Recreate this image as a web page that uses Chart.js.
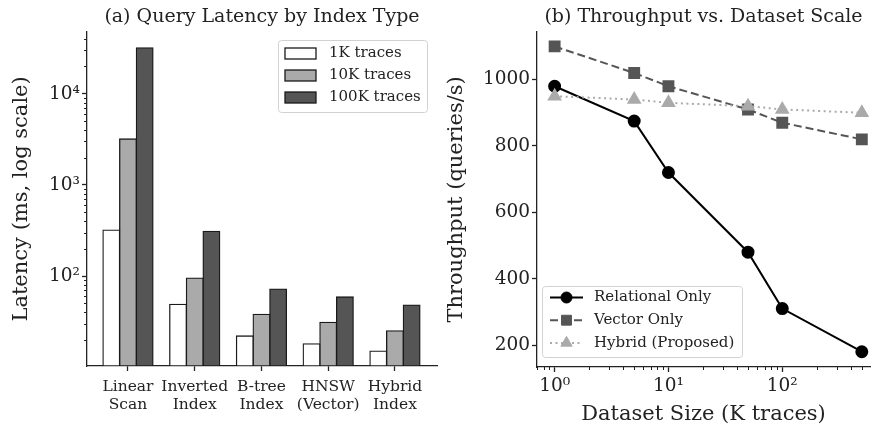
<!DOCTYPE html>
<html>
<head>
<meta charset="utf-8">
<script src="https://cdn.jsdelivr.net/npm/chart.js@4/dist/chart.umd.min.js"></script>
<style>
  html, body { margin: 0; padding: 0; background: #fff; }
  #wrap { position: relative; width: 879px; height: 430px; }
  canvas { position: absolute; top: 0; }
  #latencyChart { left: 0; }
  #throughputChart { left: 440px; }
</style>
</head>
<body>
<div id="wrap">
  <canvas id="latencyChart" width="440" height="430"></canvas>
  <canvas id="throughputChart" width="439" height="430"></canvas>
</div>
<script>
// (a) latency per index type, ms
const indexTypes = [['Linear', 'Scan'], ['Inverted', 'Index'], ['B-tree', 'Index'], ['HNSW', '(Vector)'], ['Hybrid', 'Index']];
const latency1K = [320, 49, 22, 18, 15];
const latency10K = [3200, 95, 38, 31, 25];
const latency100K = [32000, 310, 72, 59, 48];
const latencyTicks = [100, 1000, 10000];
const latencyTickLabels = ['10²', '10³', '10⁴'];

// (b) throughput vs dataset size (K traces)
const datasetSizes = [1, 5, 10, 50, 100, 500];
const relationalOnly = [980, 875, 720, 480, 310, 180];
const vectorOnly = [1100, 1020, 980, 910, 870, 820];
const hybridProposed = [950, 940, 930, 920, 910, 900];
const sizeTicks = [1, 10, 100];
const sizeTickLabels = ['10⁰', '10¹', '10²'];
const throughputTicks = [200, 400, 600, 800, 1000];

const INK = '#222';
Chart.defaults.font.family = '"DejaVu Serif", serif';
Chart.defaults.color = INK;

const minorsFor = (decades) => decades.flatMap(d => [2, 3, 4, 5, 6, 7, 8, 9].map(k => d * k));

// short minor tick marks for the log axes
const minorTicks = (axisId, values) => ({
    id: 'minorTicks',
    afterDraw(chart) {
        const s = chart.scales[axisId];
        const ctx = chart.ctx;
        ctx.save();
        ctx.strokeStyle = INK;
        ctx.lineWidth = 1;
        ctx.beginPath();
        values.forEach(v => {
            if (v < s.min || v > s.max) return;
            const p = Math.round(s.getPixelForValue(v)) + 0.5;
            if (s.isHorizontal()) {
                ctx.moveTo(p, s.top);
                ctx.lineTo(p, s.top + 3);
            } else {
                ctx.moveTo(s.right, p);
                ctx.lineTo(s.right - 3, p);
            }
        });
        ctx.stroke();
        ctx.restore();
    }
});

// matplotlib-like framed legend inside the axes
const framedLegend = (cfg) => ({
    id: 'framedLegend',
    afterDraw(chart) {
        const ctx = chart.ctx;
        ctx.save();
        ctx.beginPath();
        ctx.roundRect(cfg.x, cfg.y, cfg.w, cfg.h, 3);
        ctx.fillStyle = 'rgba(255,255,255,0.85)';
        ctx.fill();
        ctx.strokeStyle = '#d2d2d2';
        ctx.lineWidth = 1;
        ctx.stroke();
        ctx.font = cfg.fontSize + 'px "DejaVu Serif"';
        ctx.textBaseline = 'middle';
        chart.data.datasets.forEach((ds, i) => {
            const y = cfg.rowY + i * cfg.rowGap;
            if (cfg.kind === 'bar') {
                ctx.fillStyle = ds.backgroundColor;
                ctx.fillRect(cfg.sampleX, y - cfg.sampleH / 2, cfg.sampleW, cfg.sampleH);
                ctx.strokeStyle = ds.borderColor;
                ctx.lineWidth = ds.borderWidth;
                ctx.strokeRect(cfg.sampleX, y - cfg.sampleH / 2, cfg.sampleW, cfg.sampleH);
            } else {
                ctx.setLineDash(ds.borderDash || []);
                ctx.strokeStyle = ds.borderColor;
                ctx.lineWidth = ds.borderWidth;
                ctx.beginPath();
                ctx.moveTo(cfg.sampleX, y);
                ctx.lineTo(cfg.sampleX + cfg.sampleW, y);
                ctx.stroke();
                ctx.setLineDash([]);
                ctx.fillStyle = ds.backgroundColor;
                ctx.lineWidth = 1;
                Chart.helpers.drawPoint(ctx, { pointStyle: ds.pointStyle, radius: ds.pointRadius, rotation: 0, borderWidth: 1 },
                    cfg.sampleX + cfg.sampleW / 2, y);
            }
            ctx.fillStyle = INK;
            ctx.fillText(ds.label, cfg.textX, y);
        });
        ctx.restore();
    }
});

const axisBorder = { color: INK, width: 1.3 };
const axisGrid = { drawOnChartArea: false, offset: false, tickLength: 5, tickColor: INK, tickWidth: 1.3 };

const barStyle = {
    borderColor: '#1a1a1a', borderWidth: 1.3, borderSkipped: false, inflateAmount: 0.6,
    categoryPercentage: 0.75, barPercentage: 1
};
const toBars = (values) => values.map((v, i) => ({ x: i, y: v }));

new Chart(document.getElementById('latencyChart'), {
    type: 'bar',
    data: {
        datasets: [
            { label: '1K traces', data: toBars(latency1K), backgroundColor: '#ffffff', ...barStyle },
            { label: '10K traces', data: toBars(latency10K), backgroundColor: '#aaaaaa', ...barStyle },
            { label: '100K traces', data: toBars(latency100K), backgroundColor: '#555555', ...barStyle }
        ]
    },
    options: {
        responsive: false,
        animation: false,
        layout: { padding: { right: 3 } },
        plugins: {
            legend: { display: false },
            tooltip: { enabled: false },
            title: {
                display: true, text: '(a) Query Latency by Index Type', fullSize: false,
                font: { size: 19, weight: 'normal' }, color: INK, padding: { top: 6, bottom: 3 }
            }
        },
        scales: {
            x: {
                type: 'linear', offset: false, min: -0.614, max: 4.63,
                border: axisBorder, grid: axisGrid,
                ticks: {
                    font: { size: 15.5, lineHeight: 1.15 }, color: INK, padding: 7,
                    maxRotation: 0, autoSkip: false,
                    callback: v => indexTypes[v]
                },
                afterBuildTicks: s => { s.ticks = indexTypes.map((_, i) => ({ value: i })); },
                afterFit: s => { s.height = 64; }
            },
            y: {
                type: 'logarithmic', min: 10.3, max: 48000,
                border: axisBorder, grid: axisGrid,
                ticks: {
                    font: { size: 18.5 }, color: INK, padding: 2, autoSkip: false,
                    callback: v => latencyTickLabels[latencyTicks.indexOf(v)] ?? ''
                },
                afterBuildTicks: s => { s.ticks = latencyTicks.map(v => ({ value: v })); },
                afterFit: s => { s.width = 87; },
                title: { display: true, text: 'Latency (ms, log scale)', font: { size: 21 }, color: INK, padding: { top: 9 } }
            }
        }
    },
    plugins: [
        minorTicks('y', minorsFor([10, 100, 1000, 10000])),
        framedLegend({ kind: 'bar', x: 278.5, y: 40.5, w: 149, h: 72, rowY: 53.5, rowGap: 22, sampleX: 285, sampleW: 31, sampleH: 11, textX: 329, fontSize: 15 })
    ]
});

const toPoints = (values) => values.map((v, i) => ({ x: datasetSizes[i], y: v }));

new Chart(document.getElementById('throughputChart'), {
    type: 'line',
    data: {
        datasets: [
            {
                label: 'Relational Only', data: toPoints(relationalOnly), order: 3,
                borderColor: '#000000', backgroundColor: '#000000', borderWidth: 2,
                pointStyle: 'circle', pointRadius: 5.5
            },
            {
                label: 'Vector Only', data: toPoints(vectorOnly), order: 2,
                borderColor: '#555555', backgroundColor: '#555555', borderWidth: 2, borderDash: [8, 4],
                pointStyle: 'rect', pointRadius: 7
            },
            {
                label: 'Hybrid (Proposed)', data: toPoints(hybridProposed), order: 1,
                borderColor: '#aaaaaa', backgroundColor: '#aaaaaa', borderWidth: 2, borderDash: [2, 3.5],
                pointStyle: 'triangle', pointRadius: 6.5
            }
        ]
    },
    options: {
        responsive: false,
        animation: false,
        layout: { padding: { right: 1 } },
        plugins: {
            legend: { display: false },
            tooltip: { enabled: false },
            title: {
                display: true, text: '(b) Throughput vs. Dataset Scale', fullSize: false,
                font: { size: 19, weight: 'normal' }, color: INK, padding: { top: 6, bottom: 3 }
            }
        },
        scales: {
            x: {
                type: 'logarithmic', min: 0.73, max: 590,
                border: axisBorder, grid: axisGrid,
                ticks: {
                    font: { size: 18.5 }, color: INK, padding: 3, maxRotation: 0, autoSkip: false,
                    callback: v => sizeTickLabels[sizeTicks.indexOf(v)] ?? ''
                },
                afterBuildTicks: s => { s.ticks = sizeTicks.map(v => ({ value: v })); },
                afterFit: s => { s.height = 63; },
                title: { display: true, text: 'Dataset Size (K traces)', font: { size: 21 }, color: INK, padding: { bottom: 3 } }
            },
            y: {
                type: 'linear', min: 134, max: 1144,
                border: axisBorder, grid: axisGrid,
                ticks: { font: { size: 18.5 }, color: INK, padding: 2, autoSkip: false, callback: v => String(v) },
                afterBuildTicks: s => { s.ticks = throughputTicks.map(v => ({ value: v })); },
                afterFit: s => { s.width = 97; },
                title: { display: true, text: 'Throughput (queries/s)', font: { size: 21 }, color: INK, padding: { top: 4 } }
            }
        }
    },
    plugins: [
        minorTicks('x', minorsFor([0.1, 1, 10, 100])),
        framedLegend({ kind: 'line', x: 102.5, y: 286.5, w: 200, h: 71, rowY: 297.5, rowGap: 22.7, sampleX: 110, sampleW: 33, textX: 154, fontSize: 15 })
    ]
});
</script>
</body>
</html>
